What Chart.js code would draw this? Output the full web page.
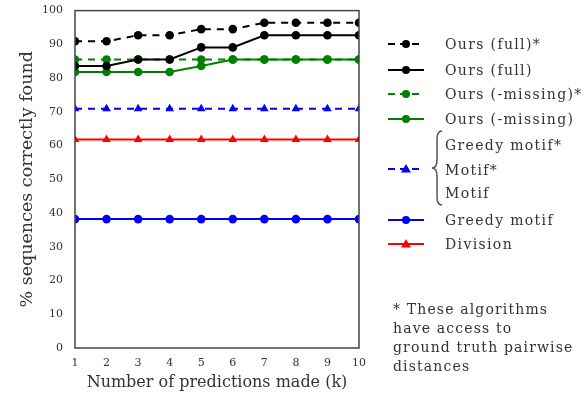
<!DOCTYPE html>
<html lang="en">
<head>
  <meta charset="UTF-8">
  <title>Sequences found</title>
  <script src="https://cdn.jsdelivr.net/npm/chart.js"></script>
  <style>
    body { margin: 0; background: #fff; }
    #wrap { position: relative; width: 585px; height: 394px; }
    #grafico { position: absolute; left: 0; top: 0; }
    .leg, .nota { position: absolute; font-family: 'DejaVu Serif', serif; color: #333; white-space: nowrap; }
    .leg { font-size: 14px; letter-spacing: 1.35px; left: 445px; line-height: 16px; transform: translateY(-8px); }
    .nota { font-size: 14px; letter-spacing: 1.15px; left: 393px; top: 300px; line-height: 19px; }
    #muestras { position: absolute; left: 0; top: 0; }
  </style>
</head>
<body>
  <div id="wrap">
    <canvas id="grafico" width="585" height="394"></canvas>
    <!-- muestras de leyenda y llave -->
    <svg id="muestras" width="585" height="394"></svg>
    <div class="leg" style="top:44px">Ours (full)*</div>
    <div class="leg" style="top:70px">Ours (full)</div>
    <div class="leg" style="top:94px">Ours (-missing)*</div>
    <div class="leg" style="top:119px">Ours (-missing)</div>
    <div class="leg" style="top:145px">Greedy motif*</div>
    <div class="leg" style="top:170px">Motif*</div>
    <div class="leg" style="top:193px">Motif</div>
    <div class="leg" style="top:220px">Greedy motif</div>
    <div class="leg" style="top:244px">Division</div>
    <div class="nota">* These algorithms<br>have access to<br>ground truth pairwise<br>distances</div>
  </div>

  <script>
    // datos
    const kLabels = ['1', '2', '3', '4', '5', '6', '7', '8', '9', '10'];
    const oursFullStar = [90.9, 90.9, 92.7, 92.7, 94.5, 94.5, 96.4, 96.4, 96.4, 96.4];
    const oursFull = [83.6, 83.6, 85.5, 85.5, 89.1, 89.1, 92.7, 92.7, 92.7, 92.7];
    const oursMissingStar = [85.5, 85.5, 85.5, 85.5, 85.5, 85.5, 85.5, 85.5, 85.5, 85.5];
    const oursMissing = [81.8, 81.8, 81.8, 81.8, 83.6, 85.5, 85.5, 85.5, 85.5, 85.5];
    const motifStar = [70.9, 70.9, 70.9, 70.9, 70.9, 70.9, 70.9, 70.9, 70.9, 70.9];
    const division = [61.8, 61.8, 61.8, 61.8, 61.8, 61.8, 61.8, 61.8, 61.8, 61.8];
    const greedyMotif = [38.2, 38.2, 38.2, 38.2, 38.2, 38.2, 38.2, 38.2, 38.2, 38.2];

    const negro = '#000000';
    const verde = '#008000';
    const azul = '#0000ff';
    const rojo = '#ff0000';

    function serie(data, color, dashed, estilo) {
      return {
        data: data,
        borderColor: color,
        backgroundColor: color,
        borderWidth: 2,
        borderDash: dashed ? [7, 6] : [],
        pointStyle: estilo,
        pointRadius: estilo === 'triangle' ? 5 : 4.3,
        pointBorderWidth: 0,
        clip: 0,
        tension: 0
      };
    }

    // marco alrededor del area
    const marco = {
      id: 'marco',
      afterDraw(chart) {
        const { ctx, chartArea: a } = chart;
        ctx.save();
        ctx.strokeStyle = '#444';
        ctx.lineWidth = 1.5;
        ctx.strokeRect(a.left, a.top, a.right - a.left, a.bottom - a.top);
        ctx.restore();
      }
    };

    Chart.defaults.font.family = "'DejaVu Serif', serif";
    Chart.defaults.color = '#333';

    new Chart(document.getElementById('grafico'), {
      type: 'line',
      data: {
        labels: kLabels,
        datasets: [
          serie(oursFullStar, negro, true, 'circle'),
          serie(oursFull, negro, false, 'circle'),
          serie(oursMissingStar, verde, true, 'circle'),
          serie(oursMissing, verde, false, 'circle'),
          serie(motifStar, azul, true, 'triangle'),
          serie(division, rojo, false, 'triangle'),
          serie(greedyMotif, azul, false, 'circle')
        ]
      },
      options: {
        responsive: false,
        animation: false,
        layout: { padding: { top: 9, right: 226, left: 0, bottom: 0 } },
        plugins: { legend: { display: false }, tooltip: { enabled: false } },
        scales: {
          x: {
            offset: false,
            grid: { display: false },
            border: { display: false },
            ticks: { font: { size: 11 }, padding: 1, maxRotation: 0 },
            title: { display: true, text: 'Number of predictions made (k)', font: { size: 16 }, padding: { top: 0, bottom: 2 } },
            afterFit(s) { s.height = 46; }
          },
          y: {
            min: 0,
            max: 100,
            grid: { display: false },
            border: { display: false },
            ticks: { stepSize: 10, font: { size: 11 }, padding: 4 },
            title: { display: true, text: '% sequences correctly found', font: { size: 17.5 }, padding: { top: 17, bottom: 0 } },
            afterFit(s) { s.width = 75; }
          }
        }
      },
      plugins: [marco]
    });

    // leyenda dibujada a mano
    const svg = document.getElementById('muestras');
    const NS = 'http://www.w3.org/2000/svg';
    function add(tag, attrs) {
      const el = document.createElementNS(NS, tag);
      for (const k in attrs) el.setAttribute(k, attrs[k]);
      svg.appendChild(el);
      return el;
    }
    function muestra(y, color, dashed, estilo) {
      const linea = { x1: 388, y1: y, x2: 424, y2: y, stroke: color, 'stroke-width': 2 };
      if (dashed) linea['stroke-dasharray'] = '7 5';
      add('line', linea);
      if (estilo === 'triangle') {
        add('polygon', { points: `406,${y - 5} 411,${y + 3.5} 401,${y + 3.5}`, fill: color });
      } else {
        add('circle', { cx: 406, cy: y, r: 4, fill: color });
      }
    }
    muestra(44, negro, true, 'circle');
    muestra(70, negro, false, 'circle');
    muestra(94, verde, true, 'circle');
    muestra(119, verde, false, 'circle');
    muestra(169, azul, true, 'triangle');
    muestra(220, azul, false, 'circle');
    muestra(244, rojo, false, 'triangle');
    add('path', {
      d: 'M442,131 Q437,131 437,139 L437,160 Q437,168 432,168 Q437,168 437,176 L437,197 Q437,205 442,205',
      fill: 'none', stroke: '#555', 'stroke-width': 1.5
    });
  </script>
</body>
</html>
